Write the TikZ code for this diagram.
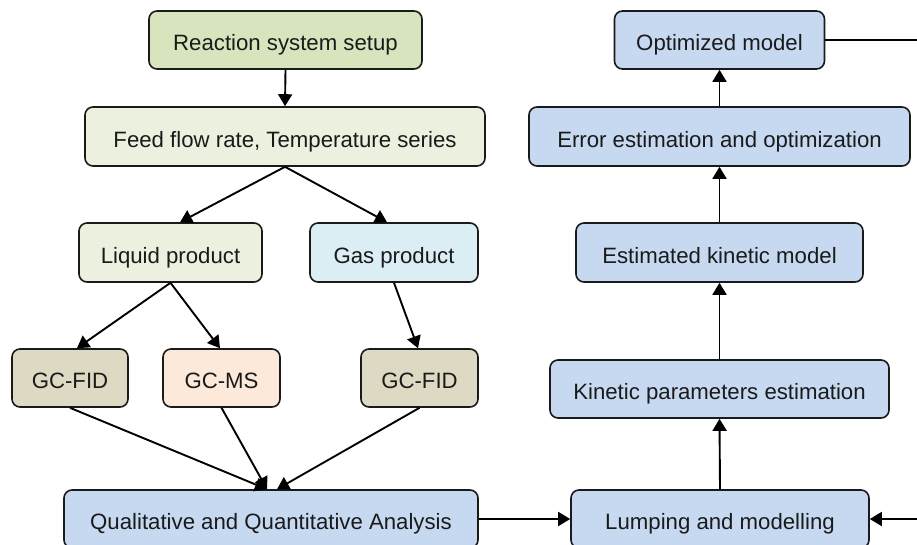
\documentclass[tikz,border=0pt]{standalone}
\usepackage{fontspec}
\setmainfont{Liberation Sans}
\usetikzlibrary{arrows.meta}

\definecolor{cSetup}{HTML}{D7E4BD}
\definecolor{cPale}{HTML}{EBF1DE}
\definecolor{cGas}{HTML}{DBEEF4}
\definecolor{cFid}{HTML}{DDD9C3}
\definecolor{cMs}{HTML}{FDE9D9}
\definecolor{cBlue}{HTML}{C6D9F1}
\definecolor{boxline}{HTML}{1A1A1A}
\definecolor{txt}{HTML}{1A1A1A}

\begin{document}
\begin{tikzpicture}[x=1pt,y=-1pt,
  box/.style={draw=boxline, line width=1.6pt, rounded corners=8pt,
    minimum height=58pt, inner sep=0pt, text=txt,
    text height=22pt, text depth=0.4pt,
    font=\fontsize{22.2}{26}\selectfont},
  flow/.style={-{Triangle[length=12pt,width=14pt]}, line width=1.9pt, draw=black},
  link/.style={line width=1.9pt, draw=black}]

\useasboundingbox (0,0) rectangle (917,544);
\clip (0,0) rectangle (917,544);

% experimental branch
\node[box, fill=cSetup, minimum width=273pt] (rss) at (285.5,40) {Reaction system setup};
\node[box, fill=cPale, minimum width=400pt, minimum height=59pt] (feed) at (285,136.5) {Feed flow rate, Temperature series};
\node[box, fill=cPale, minimum width=183pt, minimum height=59pt] (liq) at (170.5,252.5) {Liquid product};
\node[box, fill=cGas, minimum width=168pt, minimum height=59pt] (gas) at (394,252.5) {Gas product};
\node[box, fill=cFid, minimum width=116pt] (fid1) at (70,378) {GC-FID};
\node[box, fill=cMs, minimum width=117pt] (ms) at (221.5,378) {GC-MS};
\node[box, fill=cFid, minimum width=117pt] (fid2) at (419.5,378) {GC-FID};
\node[box, fill=cBlue, minimum width=414pt] (qqa) at (271,519) {Qualitative and Quantitative Analysis};

% modelling branch
\node[box, fill=cBlue, minimum width=298pt] (lump) at (720,519) {Lumping and modelling};
\node[box, fill=cBlue, minimum width=339pt] (kpe) at (719.5,389) {Kinetic parameters estimation};
\node[box, fill=cBlue, minimum width=287pt, minimum height=59pt] (ekm) at (719.5,252.5) {Estimated kinetic model};
\node[box, fill=cBlue, minimum width=381pt, minimum height=59pt] (eeo) at (719.5,136.5) {Error estimation and optimization};
\node[box, fill=cBlue, minimum width=210pt] (opt) at (719.5,40) {Optimized model};

\coordinate (inR) at (917,519);
\coordinate (outR) at (917,40);

% connectors
\draw[flow] (rss.south) -- (feed.north);
\draw[flow] (feed.south) -- ([xshift=9.5pt]liq.north);
\draw[flow] (feed.south) -- ([xshift=-7pt]gas.north);
\draw[flow] (liq.south) -- ([xshift=7pt]fid1.north);
\draw[flow] (liq.south) -- ([xshift=-1.5pt]ms.north);
\draw[flow] (gas.south) -- ([xshift=-1.5pt]fid2.north);
\draw[flow] (fid1.south) -- ([xshift=-4pt]qqa.north);
\draw[flow] (ms.south) -- ([xshift=-4pt]qqa.north);
\draw[flow] (fid2.south) -- ([xshift=6pt]qqa.north);
\draw[flow] (qqa.east) -- (lump.west);
\draw[flow] (inR) -- (lump.east);
\draw[flow] (lump.north) -- (kpe.south);
\draw[flow] (kpe.north) -- (ekm.south);
\draw[flow] (ekm.north) -- (eeo.south);
\draw[flow] (eeo.north) -- (opt.south);
\draw[link] (opt.east) -- (outR);
\end{tikzpicture}
\end{document}
